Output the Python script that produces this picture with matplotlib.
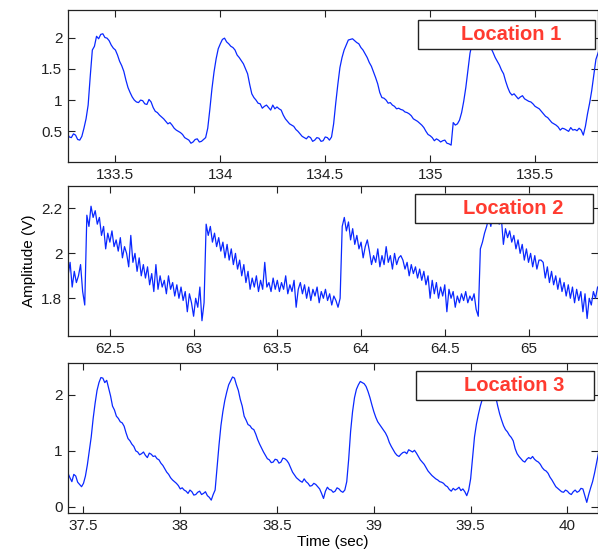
import matplotlib
matplotlib.use("Agg")
import matplotlib.pyplot as plt
import numpy as np
from matplotlib.patches import Rectangle
from matplotlib.ticker import FormatStrFormatter

plt.rcParams['font.family'] = ['Liberation Sans', 'DejaVu Sans']

# Location 1: samples every 0.01 s starting at 133.27 s
loc1_t0 = 133.27
loc1_dt = 0.01
loc1_v = [0.47, 0.41, 0.40, 0.46, 0.44, 0.37, 0.36, 0.42, 0.55, 0.70,
          0.92, 1.38, 1.80, 1.86, 2.02, 1.98, 2.05, 2.06, 2.00, 1.99,
          1.95, 1.88, 1.83, 1.80, 1.72, 1.62, 1.55, 1.46, 1.32, 1.20,
          1.12, 1.05, 1.00, 0.97, 0.96, 1.00, 0.99, 0.94, 0.93, 1.01,
          0.97, 0.88, 0.82, 0.80, 0.76, 0.73, 0.70, 0.66, 0.62, 0.64,
          0.60, 0.55, 0.52, 0.50, 0.48, 0.45, 0.40, 0.38, 0.36, 0.31,
          0.33, 0.37, 0.38, 0.33, 0.34, 0.37, 0.40, 0.55, 0.85, 1.18,
          1.45, 1.66, 1.82, 1.90, 1.97, 1.99, 1.93, 1.90, 1.86, 1.84,
          1.80, 1.72, 1.68, 1.63, 1.58, 1.50, 1.42, 1.25, 1.10, 1.04,
          1.00, 0.95, 0.94, 0.87, 0.90, 0.92, 0.88, 0.84, 0.92, 0.86,
          0.89, 0.86, 0.84, 0.76, 0.70, 0.66, 0.62, 0.60, 0.58, 0.53,
          0.50, 0.46, 0.42, 0.40, 0.38, 0.42, 0.40, 0.34, 0.36, 0.40,
          0.39, 0.34, 0.35, 0.41, 0.40, 0.36, 0.41, 0.62, 0.95, 1.25,
          1.52, 1.68, 1.80, 1.88, 1.96, 1.97, 1.98, 1.95, 1.92, 1.90,
          1.84, 1.80, 1.74, 1.68, 1.60, 1.54, 1.45, 1.36, 1.26, 1.12,
          1.04, 1.03, 1.00, 0.95, 0.96, 0.92, 0.90, 0.86, 0.87, 0.85,
          0.84, 0.81, 0.80, 0.78, 0.75, 0.70, 0.68, 0.66, 0.63, 0.60,
          0.56, 0.50, 0.45, 0.43, 0.40, 0.35, 0.38, 0.36, 0.33, 0.35,
          0.36, 0.31, 0.30, 0.28, 0.64, 0.60, 0.62, 0.68, 0.80, 0.98,
          1.20, 1.48, 1.75, 1.90, 1.98, 2.02, 2.05, 2.04, 2.02, 1.98,
          1.95, 1.90, 1.83, 1.76, 1.68, 1.62, 1.56, 1.48, 1.42, 1.30,
          1.20, 1.12, 1.08, 1.10, 1.06, 1.02, 1.05, 1.07, 1.02, 1.00,
          0.98, 0.97, 0.94, 0.90, 0.88, 0.86, 0.82, 0.78, 0.74, 0.72,
          0.68, 0.64, 0.62, 0.60, 0.57, 0.52, 0.55, 0.54, 0.52, 0.50,
          0.56, 0.52, 0.53, 0.51, 0.55, 0.52, 0.44, 0.58, 0.78, 0.95,
          1.15, 1.40, 1.65, 1.75, 1.85]

# Location 2: samples every 0.0125 s starting at 62.25 s
loc2_t0 = 62.25
loc2_dt = 0.0125
loc2_v = [1.90, 1.96, 1.85, 1.92, 1.87, 1.90, 1.95, 1.83, 1.77, 2.17,
          2.12, 2.21, 2.16, 2.19, 2.13, 2.16, 2.08, 2.12, 2.02, 2.09,
          2.05, 2.10, 2.03, 2.06, 2.01, 2.07, 1.98, 2.03, 2.00, 1.94,
          2.08, 1.96, 2.00, 1.92, 1.98, 1.90, 1.95, 1.89, 1.94, 1.86,
          1.91, 1.83, 1.95, 1.84, 1.90, 1.85, 1.88, 1.82, 1.90, 1.84,
          1.87, 1.81, 1.86, 1.80, 1.85, 1.79, 1.83, 1.74, 1.82, 1.78,
          1.72, 1.80, 1.76, 1.85, 1.70, 1.78, 2.13, 2.08, 2.12, 2.05,
          2.09, 2.03, 2.07, 2.01, 2.05, 1.98, 2.04, 1.97, 2.02, 1.95,
          2.00, 1.93, 1.97, 1.90, 1.95, 1.87, 1.92, 1.84, 1.89, 1.85,
          1.90, 1.83, 1.88, 1.84, 1.96, 1.85, 1.87, 1.83, 1.89, 1.84,
          1.88, 1.83, 1.87, 1.84, 1.90, 1.82, 1.86, 1.83, 1.88, 1.76,
          1.84, 1.87, 1.82, 1.86, 1.80, 1.85, 1.79, 1.84, 1.81, 1.85,
          1.78, 1.83, 1.80, 1.84, 1.79, 1.82, 1.77, 1.81, 1.79, 1.76,
          1.80, 2.12, 2.16, 2.10, 2.14, 2.06, 2.11, 2.04, 2.08, 2.02,
          2.05, 1.98, 2.03, 2.06, 2.01, 1.95, 1.99, 1.96, 2.02, 1.94,
          1.99, 1.95, 2.03, 1.96, 1.99, 1.93, 2.00, 1.95, 1.98, 1.99,
          1.97, 1.93, 1.96, 1.90, 1.95, 1.91, 1.94, 1.89, 1.93, 1.88,
          1.92, 1.86, 1.90, 1.80, 1.88, 1.82, 1.87, 1.80, 1.85, 1.81,
          1.86, 1.74, 1.84, 1.80, 1.83, 1.76, 1.81, 1.78, 1.82, 1.79,
          1.83, 1.78, 1.81, 1.79, 1.82, 1.75, 1.72, 2.02, 2.05, 2.09,
          2.12, 2.16, 2.12, 2.18, 2.15, 2.19, 2.13, 2.16, 2.04, 2.11,
          2.07, 2.10, 2.05, 2.08, 2.02, 2.06, 2.00, 2.04, 1.97, 2.02,
          1.96, 2.00, 1.94, 1.99, 1.93, 1.97, 1.97, 1.96, 1.89, 1.94,
          1.87, 1.92, 1.86, 1.90, 1.84, 1.89, 1.83, 1.87, 1.81, 1.86,
          1.80, 1.85, 1.78, 1.84, 1.79, 1.83, 1.74, 1.82, 1.71, 1.80,
          1.77, 1.83, 1.80, 1.85]

# Location 3: samples every 0.01 s starting at 37.42 s
loc3_t0 = 37.42
loc3_dt = 0.01
loc3_v = [0.60, 0.52, 0.45, 0.58, 0.55, 0.44, 0.40, 0.36, 0.42, 0.55,
          0.75, 1.00, 1.25, 1.58, 1.85, 2.08, 2.22, 2.31, 2.30, 2.22,
          2.26, 2.12, 1.98, 1.80, 1.73, 1.62, 1.58, 1.52, 1.50, 1.44,
          1.32, 1.22, 1.18, 1.12, 1.08, 1.00, 0.98, 0.93, 0.95, 0.98,
          0.92, 0.88, 0.96, 0.94, 0.90, 0.91, 0.86, 0.84, 0.78, 0.74,
          0.68, 0.62, 0.58, 0.52, 0.48, 0.45, 0.42, 0.38, 0.32, 0.34,
          0.30, 0.28, 0.24, 0.30, 0.27, 0.21, 0.22, 0.26, 0.28, 0.22,
          0.24, 0.27, 0.20, 0.17, 0.12, 0.22, 0.30, 0.70, 1.10, 1.45,
          1.70, 1.90, 2.05, 2.18, 2.25, 2.32, 2.30, 2.18, 2.08, 1.92,
          1.80, 1.62, 1.55, 1.47, 1.45, 1.40, 1.38, 1.30, 1.20, 1.12,
          1.05, 0.98, 0.92, 0.86, 0.84, 0.79, 0.80, 0.85, 0.84, 0.78,
          0.80, 0.87, 0.86, 0.83, 0.78, 0.70, 0.62, 0.57, 0.52, 0.49,
          0.46, 0.44, 0.50, 0.45, 0.42, 0.37, 0.38, 0.42, 0.40, 0.36,
          0.32, 0.24, 0.15, 0.28, 0.35, 0.31, 0.30, 0.26, 0.28, 0.34,
          0.32, 0.28, 0.26, 0.30, 0.45, 0.85, 1.35, 1.70, 1.95, 2.10,
          2.18, 2.24, 2.22, 2.20, 2.15, 2.06, 1.95, 1.82, 1.70, 1.60,
          1.52, 1.47, 1.42, 1.37, 1.32, 1.25, 1.15, 1.08, 1.02, 0.96,
          0.92, 0.90, 0.94, 0.97, 0.98, 0.95, 1.02, 1.00, 0.98, 1.01,
          0.96, 0.90, 0.84, 0.80, 0.76, 0.70, 0.64, 0.60, 0.56, 0.53,
          0.50, 0.48, 0.45, 0.44, 0.42, 0.38, 0.36, 0.31, 0.28, 0.33,
          0.30, 0.32, 0.35, 0.29, 0.32, 0.27, 0.20, 0.30, 0.50, 0.88,
          1.25, 1.48, 1.65, 1.80, 1.92, 2.05, 2.15, 2.22, 2.25, 2.20,
          2.10, 1.96, 1.80, 1.66, 1.55, 1.45, 1.38, 1.34, 1.28, 1.24,
          1.18, 1.04, 0.95, 0.90, 0.86, 0.82, 0.80, 0.85, 0.88, 0.86,
          0.90, 0.85, 0.82, 0.80, 0.76, 0.70, 0.66, 0.64, 0.60, 0.53,
          0.48, 0.42, 0.36, 0.33, 0.30, 0.27, 0.26, 0.30, 0.28, 0.24,
          0.22, 0.27, 0.30, 0.26, 0.28, 0.33, 0.32, 0.20, 0.08, 0.22,
          0.34, 0.45, 0.60, 0.78, 0.95]

labels = ["Location 1", "Location 2", "Location 3"]
xlims = [(133.274, 135.80), (62.25, 65.415), (37.42, 40.158)]
ylims = [(0.01, 2.44), (1.632, 2.30), (-0.11, 2.57)]
xticks = [np.arange(133.5, 135.6, 0.5), np.arange(62.5, 65.1, 0.5), np.arange(37.5, 40.1, 0.5)]
yticks = [[0.5, 1, 1.5, 2], [1.8, 2, 2.2], [0, 1, 2]]

series = [(loc1_t0, loc1_dt, loc1_v), (loc2_t0, loc2_dt, loc2_v), (loc3_t0, loc3_dt, loc3_v)]

fig = plt.figure(figsize=(5.98, 5.54), dpi=100)
W, H = 598.0, 554.0
# axes boxes in pixels: top, bottom
boxes = [(10, 162), (186, 336), (363, 513)]
# label boxes in pixels: left, right, top, bottom, text centre x
tags = [(418, 595, 20, 49, 511), (415, 593, 194, 223, 513), (416, 594, 371, 400, 514)]

axes = []
for i, (top, bot) in enumerate(boxes):
    ax = fig.add_axes([68 / W, 1 - bot / H, (598 - 68) / W, (bot - top) / H])
    t0, dt, v = series[i]
    t = t0 + dt * np.arange(len(v))
    ax.plot(t, v, color='#0a28ff', lw=0.9)
    ax.set_xlim(*xlims[i])
    ax.set_ylim(*ylims[i])
    ax.set_xticks(xticks[i])
    ax.set_yticks(yticks[i])
    ax.xaxis.set_major_formatter(FormatStrFormatter('%g'))
    ax.yaxis.set_major_formatter(FormatStrFormatter('%g'))
    ax.tick_params(direction='in', top=True, right=True, length=5, width=0.8,
                   labelsize=11, colors='#222222', pad=4)
    for sp in ax.spines.values():
        sp.set_linewidth(0.9)
        sp.set_color('#222222')

    # label box drawn over the trace
    l, r, bt, bb, tx = tags[i]
    h = bot - top
    x0 = (l - 68) / 530.0
    y0 = 1 - (bb - top) / h
    rect = Rectangle((x0, y0), (r - l) / 530.0, (bb - bt) / h, transform=ax.transAxes,
                     facecolor='white', edgecolor='#222222', lw=1.0, zorder=5)
    ax.add_patch(rect)
    ax.text((tx - 68) / 530.0, y0 + (bb - bt) / h / 2, labels[i], transform=ax.transAxes,
            ha='center', va='center', color='#ff3b30', fontsize=14.5, fontweight='bold',
            zorder=6)
    axes.append(ax)

axes[1].set_ylabel("Amplitude (V)", fontsize=11, labelpad=4)
axes[2].set_xlabel("Time (sec)", fontsize=11, labelpad=2)

fig.savefig("out.png", dpi=100)
